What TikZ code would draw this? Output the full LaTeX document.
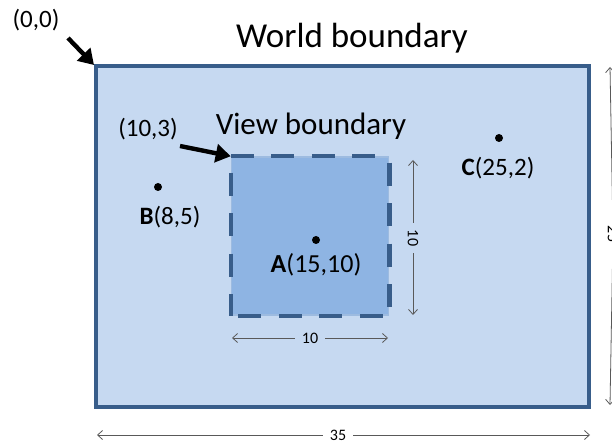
\documentclass[tikz,border=0pt]{standalone}
\usepackage{fontspec}
\setmainfont{Carlito}
\usetikzlibrary{arrows.meta}
\usetikzlibrary{positioning}
\definecolor{worldfill}{HTML}{C6D9F1}
\definecolor{edgeblue}{HTML}{385D8A}
\definecolor{viewfill}{HTML}{8EB4E3}
\definecolor{viewedge}{HTML}{9DBBE0}
\definecolor{dimgray}{HTML}{595959}

\begin{document}
\begin{tikzpicture}[x=1pt,y=-1pt,
    world box/.style={rectangle,draw=edgeblue,fill=worldfill,line width=3.5pt,inner sep=0pt,minimum width=493pt,minimum height=341pt},
    view box/.style={rectangle,draw=viewedge,fill=viewfill,line width=1.5pt,inner sep=0pt,minimum width=157pt,minimum height=158pt},
    view edge/.style={edgeblue,line width=4.5pt,dash pattern=on 23pt off 17.5pt},
    dot node/.style={circle,fill=black,inner sep=0pt,minimum size=8pt},
    big text/.style={font=\fontsize{35}{40}\selectfont,inner sep=0pt},
    point label/.style={font=\fontsize{25}{30}\selectfont,inner sep=0pt},
    dim label/.style={font=\fontsize{16}{19}\selectfont,text=black,inner sep=7pt},
    pointer/.style={-{Triangle[length=15pt,width=18pt]},line width=4.4pt,black},
    dim arrow/.style={-{Straight Barb[length=5pt,width=9pt]},draw=dimgray,line width=0.8pt}]
  \useasboundingbox (0,0) rectangle (612,443);
  % world and view
  \node[world box] (world) at (342.5,236.5) {};
  \node[view box] (view) at (310,236) {};
  \draw[view edge,dash phase=0pt] (view.north west) -- (view.north east);
  \draw[view edge,dash phase=34pt] (view.north east) -- (view.south east);
  \draw[view edge,dash phase=33pt] (view.south west) -- (view.south east);
  \draw[view edge,dash phase=24pt] (view.north west) -- (view.south west);
  \node[big text] (wtitle) at (352,38) {World boundary};
  \node[big text,font=\fontsize{31}{36}\selectfont] (vtitle) at (311,126) {View boundary};
  % origin markers
  \node[point label] (origin) at (36,20) {(0,0)};
  \node[point label] (corner) at (148,129) {(10,3)};
  \coordinate (otip) at (94,65);
  \coordinate (otail) at (68,38);
  \coordinate (ctail) at (180,146);
  \path[pointer] (otail) edge (otip);
  \path[pointer] (ctail) edge (view.north west);
  % points
  \node[dot node] (a) at (316,240) {};
  \node[point label,font=\fontsize{26}{31}\selectfont] (alabel) at (316,265) {\textbf{A}(15,10)};
  \node[dot node] (b) at (158,187) {};
  \node[point label] (blabel) at (170,217) {\textbf{B}(8,5)};
  \node[dot node] (c) at (499,138) {};
  \node[point label] (clabel) at (498,168) {\textbf{C}(25,2)};
  % dimensions
  \node[dim label] (dimh) at (310,338) {10};
  \coordinate (dimhl) at (232,338);
  \coordinate (dimhr) at (388,338);
  \path[dim arrow] (dimh) edge (dimhl) (dimh) edge (dimhr);
  \node[dim label,rotate=-90] (dimv) at (413,238) {10};
  \coordinate (dimvt) at (413,160);
  \coordinate (dimvb) at (413,315);
  \path[dim arrow] (dimv) edge (dimvt) (dimv) edge (dimvb);
  \node[dim label] (dimw) at (338,435) {35};
  \coordinate (dimwl) at (97,435);
  \coordinate (dimwr) at (590,435);
  \path[dim arrow] (dimw) edge (dimwl) (dimw) edge (dimwr);
  \node[dim label,rotate=-90] (dimd) at (613,234) {25};
  \coordinate (dimdt) at (610,67);
  \coordinate (dimdb) at (610,405);
  \path[dim arrow] (dimd) edge (dimdt) (dimd) edge (dimdb);
\end{tikzpicture}
\end{document}
